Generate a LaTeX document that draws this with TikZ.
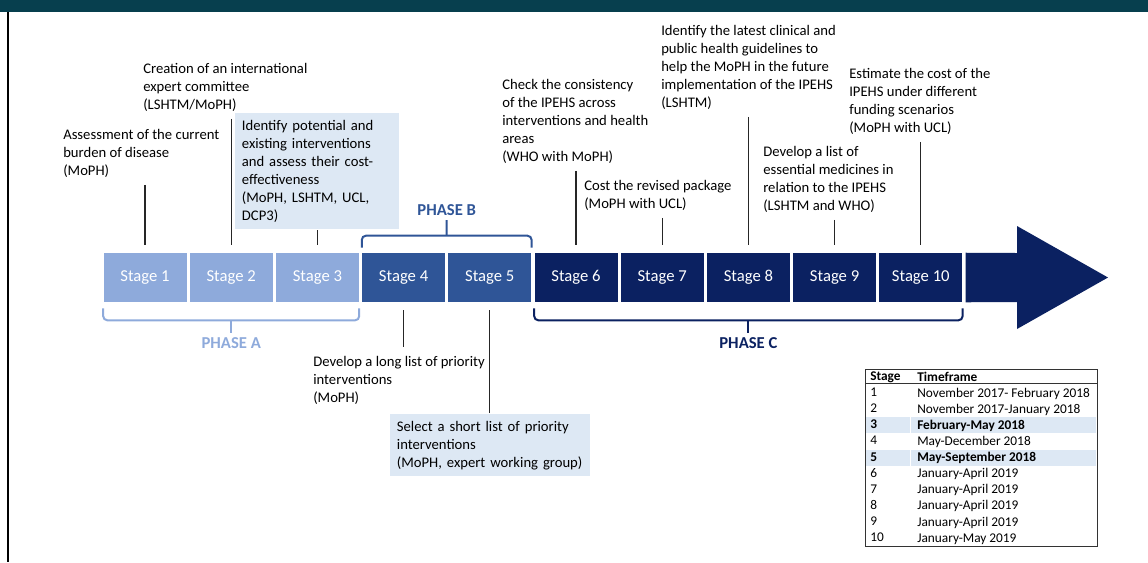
\documentclass[tikz,border=0pt]{standalone}
\usepackage{fontspec}
\setmainfont{Carlito}
\usetikzlibrary{positioning,calc}

\definecolor{bandteal}{HTML}{073F4E}
\definecolor{stageA}{HTML}{8EAADB}
\definecolor{stageB}{HTML}{2F5597}
\definecolor{stageC}{HTML}{0B2161}
\definecolor{notefill}{HTML}{DDE8F4}

\begin{document}
\begin{tikzpicture}[x=0.75pt,y=-0.75pt,
  note/.style={anchor=north west,align=left,inner sep=0pt,font=\fontsize{11pt}{13.5pt}\selectfont},
  notebox/.style={note,fill=notefill,inner xsep=5pt,inner ysep=5pt},
  stagebox/.style={minimum width=62.25pt,minimum height=36.75pt,inner sep=0pt,text=white,font=\fontsize{12.5pt}{15pt}\selectfont},
  link/.style={line width=0.9pt,draw=black!85,shorten <=5pt,shorten >=6pt},
  brace/.style={line width=1.5pt,rounded corners=3pt},
  phase/.style={font=\bfseries\fontsize{12.5pt}{15pt}\selectfont},
  tabtext/.style={anchor=north west,align=left,inner sep=0pt,font=\fontsize{10pt}{12.08pt}\selectfont}]
\useasboundingbox (0,0) rectangle (1148,562);
\fill[bandteal] (0,0) rectangle (1148,12);
\draw[line width=1.5pt] (8,12) -- (8,562);

% the ten stages along the timeline
\node[stagebox,fill=stageA] (s1) at (145,277.5) {Stage 1};
\node[stagebox,fill=stageA] (s2) at (231.2,277.5) {Stage 2};
\node[stagebox,fill=stageA] (s3) at (317.4,277.5) {Stage 3};
\node[stagebox,fill=stageB] (s4) at (403.6,277.5) {Stage 4};
\node[stagebox,fill=stageB] (s5) at (489.8,277.5) {Stage 5};
\node[stagebox,fill=stageC] (s6) at (576,277.5) {Stage 6};
\node[stagebox,fill=stageC] (s7) at (662.2,277.5) {Stage 7};
\node[stagebox,fill=stageC] (s8) at (748.4,277.5) {Stage 8};
\node[stagebox,fill=stageC] (s9) at (834.6,277.5) {Stage 9};
\node[stagebox,fill=stageC] (s10) at (920.8,277.5) {Stage 10};
\fill[stageC] ($(s10.north east)+(3,0)$) -- (1017,253) -- (1017,226) -- (1108,277.5)
  -- (1017,329) -- (1017,302) -- ($(s10.south east)+(3,0)$) -- cycle;

% what happens at each stage
\node[note] (t1) at (63,129.5) {Assessment of the current\\burden of disease\\(MoPH)};
\node[note] (t2) at (143,63.5) {Creation of an international\\expert committee\\(LSHTM/MoPH)};
\node[notebox,text width=113pt] (t3) at (235,113) {Identify potential and\\existing interventions\\and assess their cost-\\effectiveness\\(MoPH, LSHTM, UCL,\\DCP3)};
\node[note] (t4) at (502,79.5) {Check the consistency\\of the IPEHS across\\interventions and health\\areas\\(WHO with MoPH)};
\node[note] (t5) at (584,180.5) {Cost the revised package\\(MoPH with UCL)};
\node[note] (t6) at (661,25.5) {Identify the latest clinical and\\public health guidelines to\\help the MoPH in the future\\implementation of the IPEHS\\(LSHTM)};
\node[note] (t7) at (763,146.5) {Develop a list of\\essential medicines in\\relation to the IPEHS\\(LSHTM and WHO)};
\node[note] (t8) at (849,68.5) {Estimate the cost of the\\IPEHS under different\\funding scenarios\\(MoPH with UCL)};
\node[note] (t9) at (313,356) {Develop a long list of priority\\interventions\\(MoPH)};
\node[notebox,text width=140pt] (t10) at (390,414) {Select a short list of priority\\interventions\\(MoPH, expert working group)};

\draw[link] (s1.north |- t1.south) -- (s1.north);
\draw[link] (s2.north |- t2.south) -- (s2.north);
\draw[link,shorten <=0.75pt] (s3.north |- t3.south) -- (s3.north);
\draw[link,shorten <=7pt] (s4.south |- t9.north) -- (s4.south);
\draw[link,shorten <=0.75pt] (s5.south |- t10.north) -- (s5.south);
\draw[link] (s6.north |- t4.south) -- (s6.north);
\draw[link] (s7.north |- t5.south) -- (s7.north);
\draw[link] (s8.north |- t6.south) -- (s8.north);
\draw[link] (s9.north |- t7.south) -- (s9.north);
\draw[link] (s10.north |- t8.south) -- (s10.north);

% phase brackets
\node[phase,text=stageA] (phA) at (231.2,343) {PHASE A};
\node[phase,text=stageB] (phB) at (446.7,210) {PHASE B};
\node[phase,text=stageC] (phC) at (748.4,343) {PHASE C};
\draw[brace,stageA] ($(s1.south west)+(0,6)$) |- ($(s3.south east)+(0,18)$) -- ($(s3.south east)+(0,6)$);
\draw[brace,stageA] ($(s2.south)+(0,18)$) -- (phA.north);
\draw[brace,stageB] ($(s4.north west)+(0,-5)$) |- ($(s5.north east)+(0,-17)$) -- ($(s5.north east)+(0,-5)$);
\draw[brace,stageB] ($(s4.north)!0.5!(s5.north)+(0,-17)$) -- (phB.south);
\draw[brace,stageC] ($(s6.south west)+(0,6)$) |- ($(s10.south east)+(0,18)$) -- ($(s10.south east)+(0,6)$);
\draw[brace,stageC] ($(s8.south)+(0,18)$) -- (phC.north);

% timeframe table
\fill[notefill] (866,417) rectangle (909.5,433);
\fill[notefill] (911,417) rectangle (1096,433);
\fill[notefill] (866,449.5) rectangle (909.5,465.5);
\fill[notefill] (911,449.5) rectangle (1096,465.5);
\draw[line width=0.75pt,black!80] (865,369) rectangle (1097,546);
\draw[line width=0.6pt,black!80] (865,383.5) -- (1097,383.5);
\node[tabtext] (tabStage) at (870,371.5) {\textbf{Stage}\\1\\2\\\textbf{3}\\4\\\textbf{5}\\6\\7\\8\\9\\10};
\node[tabtext] (tabTime) at (917,371.5) {\textbf{Timeframe}\\November 2017- February 2018\\November 2017-January 2018\\\textbf{February-May 2018}\\May-December 2018\\\textbf{May-September 2018}\\January-April 2019\\January-April 2019\\January-April 2019\\January-April 2019\\January-May 2019};
\end{tikzpicture}
\end{document}
